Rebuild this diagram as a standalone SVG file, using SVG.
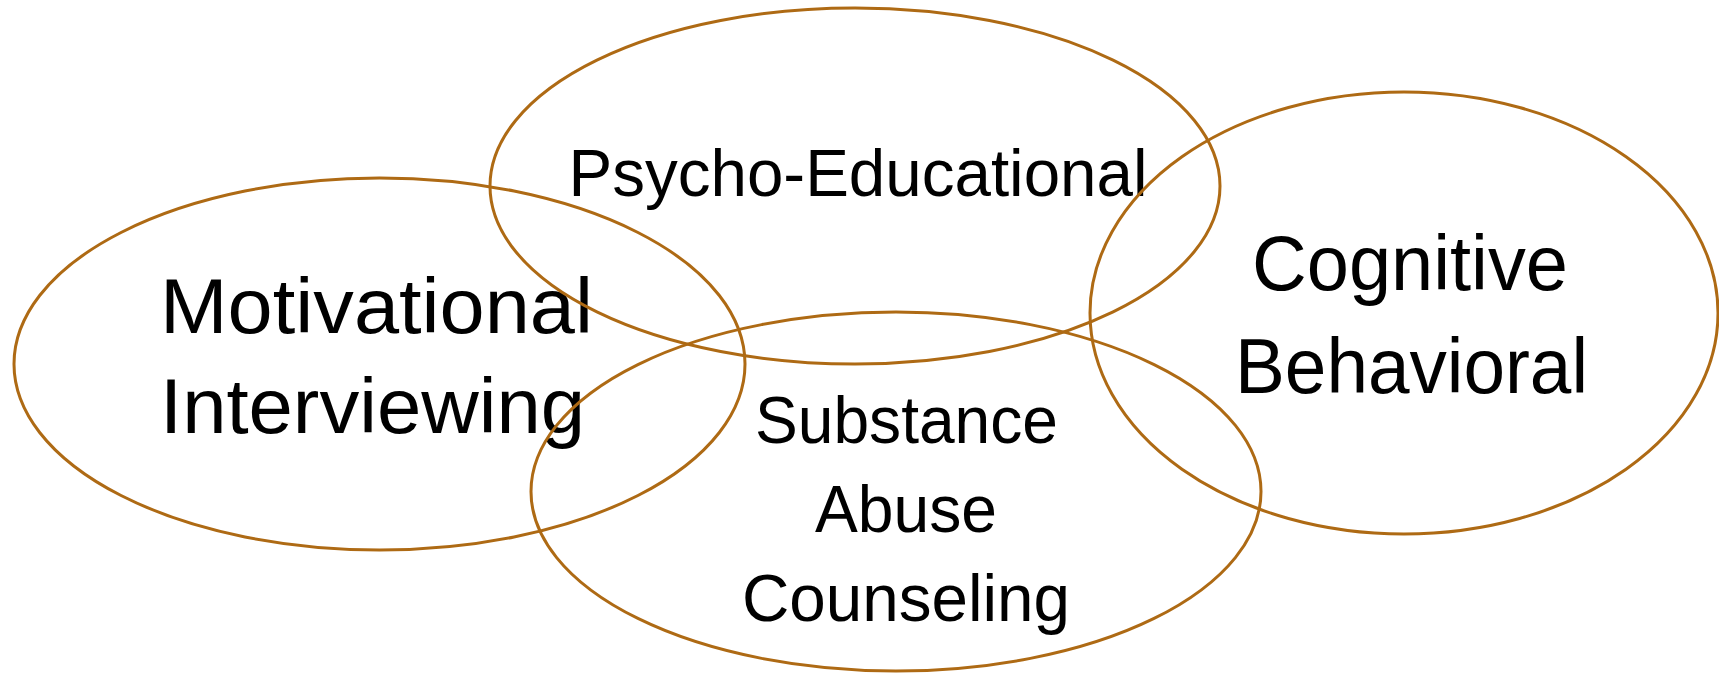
<svg xmlns="http://www.w3.org/2000/svg" width="1719" height="673" viewBox="0 0 1719 673">
  <style>
    .ring { fill: none; stroke: #AE6A14; stroke-width: 3; }
    .lbl { font-family: "Liberation Sans", Arial, sans-serif; fill: #000; }
    .big { font-size: 78px; }
    .mid { font-size: 67px; }
  </style>
  <rect width="1719" height="673" fill="#ffffff"/>

  <g id="motivational-interviewing">
    <ellipse class="ring" cx="379.5" cy="364" rx="365.5" ry="186"/>
    <text class="lbl big" x="160" y="333" textLength="433" lengthAdjust="spacingAndGlyphs">Motivational</text>
    <text class="lbl big" x="160" y="433" textLength="425" lengthAdjust="spacingAndGlyphs">Interviewing</text>
  </g>

  <g id="psycho-educational">
    <ellipse class="ring" cx="855" cy="186" rx="365" ry="178"/>
    <text class="lbl mid" x="858" y="196" text-anchor="middle" textLength="579" lengthAdjust="spacingAndGlyphs">Psycho-Educational</text>
  </g>

  <g id="cognitive-behavioral">
    <ellipse class="ring" cx="1404" cy="313" rx="314" ry="221"/>
    <text class="lbl big" x="1410" y="290" text-anchor="middle" textLength="316" lengthAdjust="spacingAndGlyphs">Cognitive</text>
    <text class="lbl big" x="1411.5" y="393" text-anchor="middle" textLength="353" lengthAdjust="spacingAndGlyphs">Behavioral</text>
  </g>

  <g id="substance-abuse-counseling">
    <ellipse class="ring" cx="896" cy="491.5" rx="365" ry="179.5"/>
    <text class="lbl mid" x="906.5" y="443" text-anchor="middle" textLength="303" lengthAdjust="spacingAndGlyphs">Substance</text>
    <text class="lbl mid" x="906" y="532" text-anchor="middle" textLength="182" lengthAdjust="spacingAndGlyphs">Abuse</text>
    <text class="lbl mid" x="906" y="621" text-anchor="middle" textLength="328" lengthAdjust="spacingAndGlyphs">Counseling</text>
  </g>

  <g id="connectors"></g>
</svg>
